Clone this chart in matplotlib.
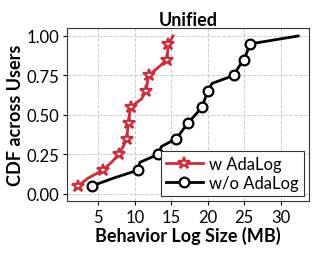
import matplotlib
matplotlib.use("Agg")
import matplotlib.pyplot as plt

cdf = [0.05, 0.10, 0.15, 0.20, 0.25, 0.30, 0.35, 0.40, 0.45, 0.50,
       0.55, 0.60, 0.65, 0.70, 0.75, 0.80, 0.85, 0.90, 0.95, 1.00]
w_adalog = [2.2, 3.6, 5.6, 6.8, 7.8, 8.4, 8.9, 9.0, 9.15, 9.25,
            9.45, 10.9, 11.5, 11.7, 11.9, 13.2, 14.4, 14.5, 14.6, 15.25]
wo_adalog = [4.1, 7.1, 10.4, 10.7, 13.2, 13.65, 15.7, 16.5, 17.3, 18.3,
             19.2, 19.6, 20.0, 20.6, 23.6, 24.2, 25.0, 25.4, 25.85, 32.4]
series_labels = ["w AdaLog", "w/o AdaLog"]
yticks = [0.00, 0.25, 0.50, 0.75, 1.00]
xticks = [5, 10, 15, 20, 25, 30]

plt.rcParams['font.family'] = ['Lato', 'DejaVu Sans']
fig = plt.figure(figsize=(3.19, 2.55), dpi=100)
ax = fig.add_axes([0.21, 0.208, 0.759, 0.678])

red = '#d42a35'
ax.plot(w_adalog, cdf, color=red, lw=2, marker='*', ms=9, mfc='white',
        mec=red, mew=1.6, markevery=slice(0, 19, 2), label=series_labels[0], zorder=3)
ax.plot(wo_adalog, cdf, color='black', lw=2, marker='o', ms=7, mfc='white',
        mec='black', mew=1.6, markevery=slice(0, 19, 2), label=series_labels[1], zorder=3)

ax.set_ylim(-0.045, 1.05)
ax.set_xticks(xticks)
ax.set_yticks(yticks)
ax.set_yticklabels([f"{v:.2f}" for v in yticks])
ax.tick_params(labelsize=12, length=3, width=0.8, pad=2.5)
ax.grid(True, ls='--', color='#cccccc', lw=0.7)
ax.set_axisbelow(True)
for s in ax.spines.values():
    s.set_color('#333333')
    s.set_linewidth(0.8)

ax.set_title("Unified", fontsize=13, fontweight='bold', pad=2)
ax.set_xlabel("Behavior Log Size (MB)", fontsize=13, fontweight='bold', labelpad=1)
ax.set_ylabel("CDF across Users", fontsize=13, fontweight='bold', labelpad=2)

leg = ax.legend(loc='lower right', fontsize=12, frameon=True, fancybox=False,
                edgecolor='#333333', framealpha=1, borderpad=0.3, labelspacing=0.2,
                handlelength=2.2, handletextpad=0.4, borderaxespad=0.3)
leg.get_frame().set_linewidth(0.8)

fig.savefig("out.png", dpi=100)
